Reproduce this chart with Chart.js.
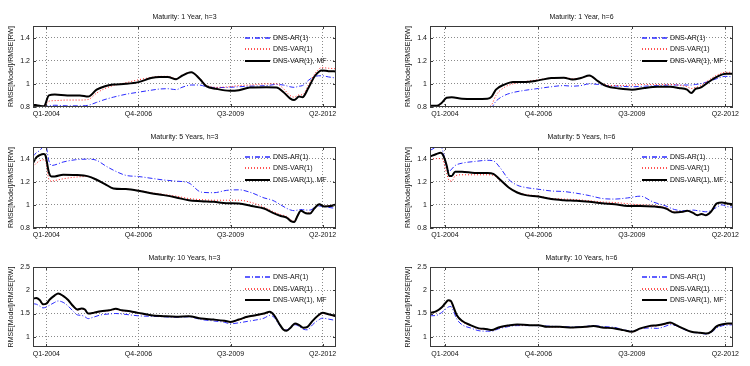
<!DOCTYPE html>
<html>
<head>
<meta charset="utf-8">
<script src="https://cdn.jsdelivr.net/npm/chart.js@4.4.1/dist/chart.umd.min.js"></script>
<style>
  body { margin: 0; background: #fff; width: 750px; height: 366px; overflow: hidden; position: relative; }
  canvas { position: absolute; }
</style>
</head>
<body>
<canvas id="p1" width="375" height="122" style="left:0;top:0"></canvas>
<canvas id="p2" width="375" height="122" style="left:375px;top:0"></canvas>
<canvas id="p3" width="375" height="122" style="left:0;top:122px"></canvas>
<canvas id="p4" width="375" height="122" style="left:375px;top:122px"></canvas>
<canvas id="p5" width="375" height="122" style="left:0;top:244px"></canvas>
<canvas id="p6" width="375" height="122" style="left:375px;top:244px"></canvas>
<script>
// x positions are in quarters, Q1-2004 = 0
const tickPos = [0, 11, 22, 33];
const tickLabels = ['Q1-2004', 'Q4-2006', 'Q3-2009', 'Q2-2012'];
const seriesNames = ['DNS-AR(1)', 'DNS-VAR(1)', 'DNS-VAR(1), MF'];

// Maturity 1 Year, h=3
const q1yH3 = [-1.6,-0.8,-0.3,0.3,1,2.5,4,5,6,7,8,9.5,11,12.5,13.5,14.5,15.5,16.2,17.3,18.3,19.1,20.3,21.9,23,24.3,26.3,27.5,28.3,29.1,29.6,30.2,30.6,31.3,32.1,32.9,33.7,34.6];
const ar1yH3 = [0.82,0.81,0.806,0.81,0.815,0.81,0.81,0.815,0.84,0.865,0.885,0.91,0.928,0.945,0.955,0.958,0.95,0.97,0.99,0.99,0.975,0.968,0.97,0.975,0.98,0.985,0.995,0.99,0.975,0.97,0.98,0.985,1.03,1.065,1.07,1.06,1.05];
const var1yH3 = [0.82,0.81,0.806,0.85,0.855,0.86,0.86,0.865,0.92,0.96,0.985,1.01,1.035,1.055,1.065,1.065,1.045,1.075,1.10,1.05,0.99,0.97,0.975,0.985,0.99,1.0,1.0,0.96,0.90,0.885,0.905,0.905,0.99,1.09,1.14,1.135,1.13];
const mf1yH3 = [0.82,0.81,0.806,0.90,0.907,0.90,0.90,0.89,0.95,0.98,0.994,1.0,1.015,1.05,1.06,1.06,1.04,1.07,1.10,1.045,0.98,0.957,0.94,0.945,0.968,0.97,0.968,0.93,0.875,0.86,0.89,0.885,0.965,1.07,1.115,1.11,1.107];

// Maturity 1 Year, h=6
const q1yH6 = [-1.76,-1,-0.4,0.2,0.8,2,3.5,5,5.5,6,7,8,9.5,11,12.5,14,15,16,17,18,19,20.5,22,23.5,25,26.5,27.5,28.5,29,29.5,30,31,32,33,33.9];
const ar1yH6 = [0.81,0.81,0.8,0.795,0.795,0.795,0.795,0.795,0.80,0.85,0.9,0.925,0.945,0.96,0.975,0.985,0.98,0.985,1.0,0.995,0.985,0.98,0.975,0.98,0.985,0.99,0.99,0.99,0.99,0.995,1.0,1.02,1.045,1.065,1.06];
const var1yH6 = [0.81,0.81,0.805,0.802,0.802,0.802,0.802,0.802,0.82,0.9,0.97,1.0,1.02,1.035,1.05,1.055,1.045,1.05,1.07,1.025,0.99,0.985,0.99,0.995,0.995,0.995,0.99,0.975,0.96,0.97,0.98,1.03,1.075,1.1,1.1];
const mf1yH6 = [0.81,0.81,0.835,0.88,0.884,0.872,0.87,0.872,0.89,0.95,0.994,1.017,1.015,1.03,1.05,1.052,1.038,1.05,1.072,1.023,0.98,0.96,0.95,0.965,0.974,0.974,0.965,0.95,0.92,0.957,0.965,1.015,1.06,1.087,1.087];

// Maturity 5 Years, h=3
const q5yH3 = [-1.6,-1.2,-0.8,-0.3,-0.1,0.3,0.6,1,2,3.5,5,6,7,8,9.5,11,12.5,14,15.5,17,18.5,20,21.5,23,24.5,26,27,28,28.7,29.2,29.6,30,30.4,31,31.5,32,32.6,33.2,34,34.6];
const ar5yH3 = [1.42,1.45,1.47,1.51,1.52,1.38,1.34,1.345,1.37,1.39,1.395,1.385,1.34,1.30,1.255,1.245,1.23,1.215,1.205,1.19,1.11,1.105,1.125,1.13,1.105,1.06,1.04,1.0,0.97,0.955,0.95,0.955,0.96,0.955,0.955,0.975,0.99,0.985,0.975,0.97];
const var5yH3 = [1.33,1.36,1.38,1.39,1.38,1.22,1.205,1.21,1.225,1.24,1.245,1.215,1.18,1.142,1.136,1.125,1.105,1.09,1.075,1.055,1.045,1.04,1.04,1.04,1.02,0.98,0.945,0.915,0.90,0.87,0.86,0.91,0.95,0.93,0.93,0.97,1.005,0.99,0.995,1.0];
const mf5yH3 = [1.362,1.41,1.43,1.44,1.426,1.28,1.246,1.246,1.26,1.258,1.246,1.217,1.18,1.142,1.136,1.122,1.10,1.084,1.064,1.04,1.032,1.026,1.014,1.012,0.99,0.968,0.933,0.904,0.89,0.86,0.852,0.904,0.948,0.928,0.925,0.968,1.006,0.986,0.99,1.003];

// Maturity 5 Years, h=6
const q5yH6 = [-1.76,-1,-0.5,-0.2,0.2,0.5,0.8,1.2,2,3.5,5,5.7,6.5,7.5,8.5,9.5,11,12.5,14,15.5,17,18.5,20,21.5,23,24.5,26,27,28,28.5,29.2,29.7,30.2,30.7,31.3,32,32.6,33.2,33.9];
const ar5yH6 = [1.47,1.50,1.51,1.45,1.33,1.29,1.31,1.34,1.36,1.375,1.385,1.38,1.32,1.22,1.17,1.15,1.135,1.12,1.115,1.10,1.08,1.055,1.05,1.06,1.075,1.025,0.99,0.96,0.95,0.95,0.955,0.95,0.945,0.94,0.95,0.98,1.0,0.985,0.98];
const var5yH6 = [1.39,1.40,1.40,1.38,1.27,1.21,1.205,1.25,1.26,1.26,1.26,1.255,1.21,1.15,1.11,1.09,1.075,1.055,1.05,1.045,1.035,1.025,1.02,1.01,1.0,0.995,0.975,0.94,0.94,0.945,0.935,0.915,0.92,0.915,0.945,1.01,1.02,1.01,1.005];
const mf5yH6 = [1.417,1.44,1.45,1.426,1.34,1.25,1.25,1.287,1.287,1.275,1.275,1.267,1.217,1.15,1.107,1.084,1.072,1.05,1.04,1.035,1.026,1.014,1.006,0.99,0.99,0.986,0.968,0.933,0.94,0.948,0.93,0.91,0.92,0.91,0.94,1.012,1.02,1.012,1.006];

// Maturity 10 Years, h=3
const q10yH3 = [-1.6,-1.2,-0.8,-0.4,0,0.4,1,1.4,2,2.6,3.2,3.7,4.2,4.6,5,5.6,6.5,7.5,8.3,9,10,11,12.5,14,15.5,17,18.5,20,21.3,22,23,24,25,26,26.7,27.2,27.8,28.3,28.7,29.2,29.7,30.2,30.7,31.2,31.8,32.5,33,33.7,34.6];
const ar10yH3 = [1.71,1.70,1.66,1.62,1.64,1.68,1.74,1.77,1.74,1.66,1.55,1.47,1.46,1.43,1.39,1.42,1.47,1.49,1.5,1.49,1.47,1.45,1.44,1.43,1.42,1.43,1.37,1.34,1.31,1.28,1.30,1.33,1.36,1.40,1.46,1.42,1.26,1.16,1.15,1.2,1.26,1.22,1.16,1.15,1.26,1.36,1.40,1.38,1.35];
const var10yH3 = [1.80,1.82,1.78,1.69,1.70,1.79,1.88,1.92,1.87,1.78,1.65,1.575,1.595,1.575,1.49,1.505,1.54,1.56,1.585,1.56,1.54,1.505,1.46,1.44,1.43,1.44,1.39,1.365,1.335,1.315,1.36,1.42,1.455,1.49,1.525,1.455,1.28,1.16,1.14,1.2,1.28,1.245,1.19,1.21,1.335,1.45,1.5,1.475,1.435];
const mf10yH3 = [1.82,1.835,1.79,1.70,1.714,1.8,1.89,1.93,1.88,1.79,1.66,1.586,1.607,1.586,1.5,1.514,1.55,1.57,1.6,1.57,1.55,1.514,1.464,1.443,1.43,1.443,1.393,1.37,1.343,1.32,1.37,1.43,1.464,1.5,1.536,1.464,1.286,1.157,1.13,1.2,1.286,1.25,1.193,1.214,1.343,1.464,1.514,1.486,1.443];

// Maturity 10 Years, h=6
const q10yH6 = [-1.76,-1,-0.4,0,0.4,0.7,1,1.4,2,3,4,5,5.5,6.3,7.5,8.5,10,11,12,13.5,15,16.5,17.5,18.5,20,21,22,23,24,25,26,26.5,27.2,28,29,30,30.7,31.3,32,32.7,33.3,33.9];
const ar10yH6 = [1.45,1.46,1.52,1.58,1.64,1.65,1.55,1.38,1.26,1.19,1.13,1.12,1.12,1.17,1.22,1.24,1.24,1.24,1.23,1.22,1.21,1.22,1.24,1.22,1.2,1.15,1.12,1.17,1.19,1.18,1.23,1.26,1.24,1.17,1.1,1.08,1.06,1.09,1.19,1.24,1.25,1.26];
const var10yH6 = [1.50,1.54,1.62,1.70,1.77,1.76,1.63,1.45,1.33,1.24,1.17,1.155,1.14,1.19,1.235,1.255,1.245,1.245,1.21,1.21,1.195,1.21,1.225,1.195,1.175,1.14,1.105,1.17,1.215,1.235,1.27,1.29,1.24,1.175,1.105,1.085,1.07,1.10,1.22,1.26,1.275,1.275];
const mf10yH6 = [1.51,1.55,1.63,1.714,1.786,1.77,1.643,1.464,1.343,1.25,1.18,1.164,1.143,1.2,1.243,1.264,1.25,1.25,1.214,1.214,1.2,1.214,1.229,1.2,1.18,1.143,1.107,1.18,1.229,1.25,1.286,1.307,1.25,1.18,1.107,1.086,1.071,1.107,1.229,1.27,1.286,1.286];

const yTicksLow = [0.8, 1, 1.2, 1.4];
const yTicksHigh = [1, 1.5, 2, 2.5];

const lineColors = ['#2a2aff', '#ff1a1a', '#000000'];

Chart.defaults.font.family = '"Liberation Sans", Arial, sans-serif';
Chart.defaults.font.size = 7;
Chart.defaults.color = '#111';

// box, inner ticks, title, y label and legend drawn MATLAB style
const decor = {
  id: 'decor',
  afterDraw(chart, args, o) {
    const { ctx, chartArea: a, scales } = chart;
    ctx.save();
    ctx.setLineDash([]);
    ctx.strokeStyle = '#3a3a3a';
    ctx.lineWidth = 1;
    ctx.strokeRect(a.left + 0.5, a.top + 0.5, a.width - 1, a.height - 1);

    // small tick marks pointing inward
    ctx.beginPath();
    scales.x.ticks.forEach(t => {
      const x = Math.round(scales.x.getPixelForValue(t.value)) + 0.5;
      ctx.moveTo(x, a.bottom); ctx.lineTo(x, a.bottom - 3);
      ctx.moveTo(x, a.top); ctx.lineTo(x, a.top + 3);
    });
    scales.y.ticks.forEach(t => {
      const y = Math.round(scales.y.getPixelForValue(t.value)) + 0.5;
      ctx.moveTo(a.left, y); ctx.lineTo(a.left + 3, y);
      ctx.moveTo(a.right, y); ctx.lineTo(a.right - 3, y);
    });
    ctx.stroke();

    ctx.fillStyle = '#111';
    ctx.font = '7px "Liberation Sans", Arial, sans-serif';
    ctx.textAlign = 'center';
    ctx.textBaseline = 'middle';
    ctx.fillText(o.title, (a.left + a.right) / 2, o.titleY);

    ctx.save();
    ctx.translate(o.labelX, (a.top + a.bottom) / 2);
    ctx.rotate(-Math.PI / 2);
    ctx.fillText('RMSE[Model]/RMSE[RW]', 0, 0);
    ctx.restore();

    ctx.textAlign = 'left';
    chart.data.datasets.forEach((ds, i) => {
      const y = Math.round(a.top + o.legendTop + i * 11.4);
      ctx.strokeStyle = lineColors[i];
      ctx.lineWidth = ds.borderWidth === 1 ? 1.3 : ds.borderWidth;
      ctx.setLineDash(ds.borderDash || []);
      ctx.beginPath();
      ctx.moveTo(a.right - 91, y);
      ctx.lineTo(a.right - 66, y);
      ctx.stroke();
      ctx.setLineDash([]);
      ctx.fillStyle = '#111';
      ctx.fillText(ds.label, a.right - 63, y);
    });
    ctx.restore();
  }
};

function pts(xs, ys) {
  return xs.map((x, i) => ({ x: x, y: ys[i] }));
}

function makePanel(id, p) {
  new Chart(document.getElementById(id), {
    type: 'line',
    data: {
      datasets: [
        { label: seriesNames[0], data: pts(p.q, p.ar), borderColor: lineColors[0], borderWidth: 1, borderDash: [5, 2, 1, 2], order: 2 },
        { label: seriesNames[1], data: pts(p.q, p.vr), borderColor: lineColors[1], borderWidth: 1, borderDash: [1, 2], order: 1 },
        { label: seriesNames[2], data: pts(p.q, p.mf), borderColor: lineColors[2], borderWidth: 2, order: 0 }
      ]
    },
    options: {
      responsive: false,
      animation: false,
      devicePixelRatio: 1,
      layout: { padding: { left: 0, right: p.right, top: p.top, bottom: 0 } },
      elements: {
        point: { radius: 0 },
        line: { cubicInterpolationMode: 'monotone', fill: false }
      },
      datasets: { line: { clip: 0 } },
      plugins: {
        legend: { display: false },
        tooltip: { enabled: false },
        decor: { title: p.title, titleY: p.titleY, labelX: p.labelX, legendTop: p.legendTop }
      },
      scales: {
        x: {
          type: 'linear',
          min: p.xmin,
          max: p.xmax,
          afterBuildTicks: s => { s.ticks = tickPos.map(v => ({ value: v })); },
          afterFit: s => { s.height = 122 - p.bottom; },
          ticks: { padding: 3, maxRotation: 0, autoSkip: false, callback: v => tickLabels[tickPos.indexOf(v)] },
          grid: { color: '#8a8a8a', drawTicks: false },
          border: { display: false, dash: [1, 2] }
        },
        y: {
          min: p.ymin,
          max: p.ymax,
          afterBuildTicks: s => { s.ticks = p.yticks.map(v => ({ value: v })); },
          afterFit: s => { s.width = p.left; },
          ticks: { padding: 3, callback: v => String(Math.round(v * 10) / 10) },
          grid: { color: '#8a8a8a', drawTicks: false },
          border: { display: false, dash: [1, 2] }
        }
      }
    },
    plugins: [decor]
  });
}

const leftCol = { xmin: -1.6, xmax: 34.6, left: 33, right: 39, labelX: 11 };
const rightCol = { xmin: -1.76, xmax: 33.9, left: 55, right: 17, labelX: 33 };
const row1 = { top: 26, bottom: 107, titleY: 16.7, legendTop: 12, ymin: 0.8, ymax: 1.5, yticks: yTicksLow };
const row2 = { top: 25, bottom: 106, titleY: 15, legendTop: 9.7, ymin: 0.8, ymax: 1.5, yticks: yTicksLow };
const row3 = { top: 23, bottom: 103, titleY: 14, legendTop: 10.4, ymin: 0.78, ymax: 2.5, yticks: yTicksHigh };

makePanel('p1', Object.assign({}, leftCol, row1, { title: 'Maturity: 1 Year, h=3', q: q1yH3, ar: ar1yH3, vr: var1yH3, mf: mf1yH3 }));
makePanel('p2', Object.assign({}, rightCol, row1, { title: 'Maturity: 1 Year, h=6', q: q1yH6, ar: ar1yH6, vr: var1yH6, mf: mf1yH6 }));
makePanel('p3', Object.assign({}, leftCol, row2, { title: 'Maturity: 5 Years, h=3', q: q5yH3, ar: ar5yH3, vr: var5yH3, mf: mf5yH3 }));
makePanel('p4', Object.assign({}, rightCol, row2, { title: 'Maturity: 5 Years, h=6', q: q5yH6, ar: ar5yH6, vr: var5yH6, mf: mf5yH6 }));
makePanel('p5', Object.assign({}, leftCol, row3, { title: 'Maturity: 10 Years, h=3', q: q10yH3, ar: ar10yH3, vr: var10yH3, mf: mf10yH3 }));
makePanel('p6', Object.assign({}, rightCol, row3, { title: 'Maturity: 10 Years, h=6', q: q10yH6, ar: ar10yH6, vr: var10yH6, mf: mf10yH6 }));
</script>
</body>
</html>
